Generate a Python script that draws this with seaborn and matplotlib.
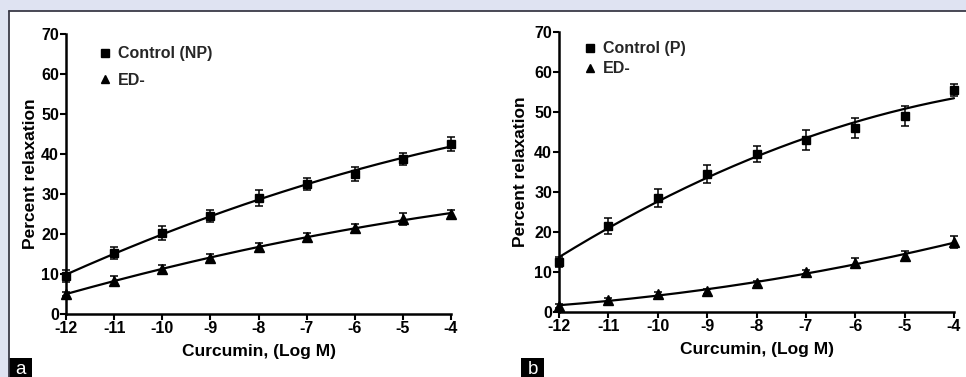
import numpy as np
import pandas as pd
import matplotlib
matplotlib.use('Agg')
import matplotlib.pyplot as plt
import seaborn as sns
from matplotlib.lines import Line2D
from matplotlib.patches import Rectangle

# 데이터
log_conc = [-12, -11, -10, -9, -8, -7, -6, -5, -4]

ctrl_np = [9.5, 15.2, 20.2, 24.5, 29.0, 32.5, 35.0, 38.7, 42.5]
ctrl_np_err = [1.5, 1.5, 1.8, 1.5, 2.0, 1.5, 1.8, 1.5, 1.7]
ed_a = [5.0, 8.3, 11.3, 14.0, 16.7, 19.2, 21.4, 23.8, 25.0]
ed_a_err = [0.4, 1.2, 1.0, 1.0, 1.0, 1.0, 1.2, 1.5, 1.0]

ctrl_p = [12.5, 21.5, 28.5, 34.5, 39.5, 43.0, 46.0, 49.0, 55.5]
ctrl_p_err = [1.2, 2.0, 2.3, 2.3, 2.0, 2.5, 2.5, 2.5, 1.5]
ed_b = [1.5, 3.0, 4.5, 5.2, 7.2, 10.0, 12.2, 14.0, 17.5]
ed_b_err = [0.4, 0.4, 0.5, 0.6, 0.6, 0.6, 1.2, 1.2, 1.5]

panels = [
    ('a', 'Control (NP)', ctrl_np, ctrl_np_err, ed_a, ed_a_err),
    ('b', 'Control (P)', ctrl_p, ctrl_p_err, ed_b, ed_b_err),
]

sns.set_theme(style='ticks')
plt.rcParams['font.family'] = ['Liberation Sans', 'DejaVu Sans']
plt.rcParams['font.weight'] = 'bold'

W, H = 966, 377
fig = plt.figure(figsize=(W / 100, H / 100), dpi=100)
fig.patch.set_facecolor('#dfe3f2')

# 흰색 패널 + 위/왼쪽 테두리
fig.add_artist(Rectangle((9 / W, 0), 1 - 9 / W, 1 - 11 / H, transform=fig.transFigure,
                         facecolor='white', edgecolor='none', zorder=0))
fig.add_artist(Line2D([9 / W, 9 / W], [0, 1 - 11 / H], transform=fig.transFigure,
                      color='#3a3a48', lw=1.3))
fig.add_artist(Line2D([9 / W, 1], [1 - 11 / H, 1 - 11 / H], transform=fig.transFigure,
                      color='#3a3a48', lw=1.3))

boxes = [(66, 451, 34, 314), (559, 954, 32, 312)]
legend_pos = [(91, 40), (576, 35)]
ylabel_x = [38, 528]
tag_box = [(9, 32), (521, 544)]

xs = np.linspace(-12, -4, 200)

for (tag, ctrl_name, c, ce, e, ee), (l, r, t, b), (lx, ly), ylx, (tx0, tx1) in zip(
        panels, boxes, legend_pos, ylabel_x, tag_box):
    ax = fig.add_axes([l / W, 1 - b / H, (r - l) / W, (b - t) / H])
    ax.set_facecolor('none')

    # 곡선: 2차 다항식 적합
    fits = []
    for name, vals in [(ctrl_name, c), ('ED-', e)]:
        coef = np.polyfit(log_conc, vals, 2)
        fits.append(pd.DataFrame({'x': xs, 'y': np.polyval(coef, xs), 'series': name}))
    fit_df = pd.concat(fits, ignore_index=True)
    sns.lineplot(data=fit_df, x='x', y='y', units='series', estimator=None,
                 color='black', lw=1.6, ax=ax, clip_on=False)

    ax.errorbar(log_conc, c, yerr=ce, fmt='s', color='black', ms=6,
                capsize=3, elinewidth=1.1, capthick=1.1, clip_on=False, zorder=3)
    ax.errorbar(log_conc, e, yerr=ee, fmt='^', color='black', ms=6.5,
                capsize=3, elinewidth=1.1, capthick=1.1, clip_on=False, zorder=3)

    ax.set_xlim(-12, -4)
    ax.set_ylim(0, 70)
    ax.set_xticks(log_conc)
    ax.set_xticklabels([str(v) for v in log_conc])
    ax.set_yticks(range(0, 71, 10))
    ax.tick_params(axis='both', length=4, width=1.5, pad=1, labelsize=11.5,
                   direction='out', color='black', labelcolor='black')
    for lab in ax.get_xticklabels() + ax.get_yticklabels():
        lab.set_fontweight('bold')
    sns.despine(ax=ax)
    for s in ['left', 'bottom']:
        ax.spines[s].set_linewidth(1.8)
        ax.spines[s].set_color('black')

    ax.set_xlabel('Curcumin, (Log M)', fontsize=12.5, fontweight='bold', color='black', labelpad=6)
    ax.set_ylabel('Percent relaxation', fontsize=12.5, fontweight='bold', color='black')
    ax.yaxis.set_label_coords((ylx - l) / (r - l), 0.5)

    handles = [Line2D([], [], marker='s', ls='none', color='black', ms=5.5, label=ctrl_name),
               Line2D([], [], marker='^', ls='none', color='black', ms=6, label='ED-')]
    ax.legend(handles=handles, loc='upper left', frameon=False,
              handlelength=1.0, handletextpad=0.3,
              labelspacing=0.7 if tag == 'a' else 0.3,
              bbox_to_anchor=((lx - l) / (r - l), 1 - (ly - t) / (b - t)),
              borderaxespad=0, prop={'weight': 'bold', 'size': 11.5})

    fig.add_artist(Rectangle((tx0 / W, 0), (tx1 - tx0) / W, 19 / H, transform=fig.transFigure,
                             facecolor='black', edgecolor='none'))
    fig.text((tx0 + tx1) / 2 / W, 3 / H, tag, color='white', fontsize=13.5, fontweight='normal',
             ha='center', va='baseline')

fig.savefig('out.png', dpi=100, facecolor=fig.get_facecolor())
